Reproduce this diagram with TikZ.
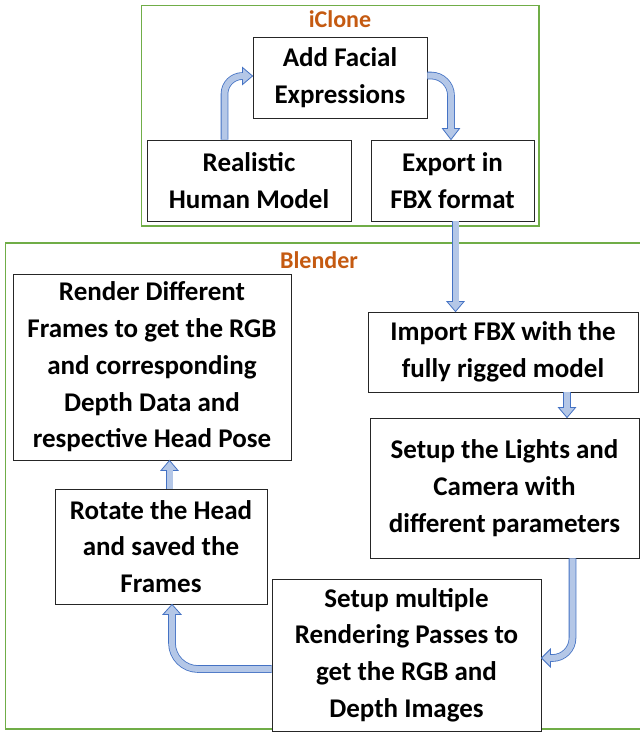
\documentclass[tikz,border=0pt]{standalone}
\usepackage{fontspec}
\setmainfont{Carlito}
\usetikzlibrary{calc}
\definecolor{grpline}{HTML}{70AD47}
\definecolor{ttlcol}{HTML}{C55A11}
\definecolor{aout}{HTML}{4472C4}
\definecolor{afill}{HTML}{B4C7E7}
\begin{document}
\begin{tikzpicture}[x=1pt,y=-1pt,
  box/.style={draw=black!85, line width=0.9pt, fill=white, align=center,
    font=\fontsize{27}{36.7}\selectfont\bfseries, inner sep=0pt},
  grp/.style={draw=grpline, line width=1.1pt},
  ttlstyle/.style={text=ttlcol, font=\fontsize{24}{28}\selectfont\bfseries, inner sep=0pt},
  shout/.style={draw=aout, line width=7.6pt},
  shin/.style={draw=afill, line width=6pt},
  ahd/.style={fill=afill, draw=aout, line width=0.8pt, line join=miter},
]
\useasboundingbox (0,0) rectangle (640,740);
\fill[white] (0,0) rectangle (640,740);
% groups
\draw[grp] (141.5,5.5) rectangle (539,226);
\node[ttlstyle] (t1) at (340,19.5) {iClone};
\draw[grp] (5.5,243) rectangle (645,729);
\node[ttlstyle] (t2) at (319,260) {Blender};
% boxes
\node[box, minimum width=174, minimum height=81] (face) at (340,77.5) {Add Facial\\Expressions};
\node[box, minimum width=204, minimum height=81] (real) at (249,180.5) {Realistic\\Human Model};
\node[box, minimum width=163, minimum height=81] (export) at (452.5,180.5) {Export in\\FBX format};
\node[box, minimum width=278, minimum height=186] (render) at (152,367) {Render Different\\Frames to get the RGB\\and corresponding\\Depth Data and\\respective Head Pose};
\node[box, minimum width=212, minimum height=115] (rotate) at (161,546.5) {Rotate the Head\\and saved the\\Frames};
\node[box, minimum width=270, minimum height=80] (import) at (503,352) {Import FBX with the\\fully rigged model};
\node[box, minimum width=269, minimum height=140] (lights) at (504.5,488) {Setup the Lights and\\Camera with\\different parameters};
\node[box, minimum width=269, minimum height=152] (passes) at (406.5,655) {Setup multiple\\Rendering Passes to\\get the RGB and\\Depth Images};
% arrow 1: real -> face
\coordinate (a1s) at ($(real.north)+(-24.5,0)$);
\coordinate (a1t) at ($(face.west)+(0,-1.5)$);
\coordinate (a1b) at ($(a1t)+(-10,0)$);
\draw[shout,rounded corners=18] (a1s) |- (a1b);
\draw[ahd] ($(a1b)+(0,-8.5)$) -- (a1t) -- ($(a1b)+(0,8.5)$) -- cycle;
\draw[shin,rounded corners=18] (a1s) |- ($(a1b)+(1.5,0)$);
% arrow 2: face -> export
\coordinate (a2s) at ($(face.east)+(0,-2)$);
\coordinate (a2t) at ($(export.north)+(-1.5,0)$);
\coordinate (a2b) at ($(a2t)+(0,-11)$);
\draw[shout,rounded corners=20] (a2s) -| (a2b);
\draw[ahd] ($(a2b)+(-8.5,0)$) -- (a2t) -- ($(a2b)+(8.5,0)$) -- cycle;
\draw[shin,rounded corners=20] (a2s) -| ($(a2b)+(0,1.5)$);
% arrow 3: export -> import
\coordinate (a3s) at ($(export.south)+(3,0)$);
\coordinate (a3t) at (a3s |- import.north);
\coordinate (a3b) at ($(a3t)+(0,-10)$);
\draw[shout] (a3s) -- (a3b);
\draw[ahd] ($(a3b)+(-8.5,0)$) -- (a3t) -- ($(a3b)+(8.5,0)$) -- cycle;
\draw[shin] (a3s) -- ($(a3b)+(0,1.5)$);
% arrow 4: import -> lights
\coordinate (a4s) at ($(import.south)+(64,0)$);
\coordinate (a4t) at (a4s |- lights.north);
\coordinate (a4b) at ($(a4t)+(0,-10)$);
\draw[shout] (a4s) -- (a4b);
\draw[ahd] ($(a4b)+(-8.5,0)$) -- (a4t) -- ($(a4b)+(8.5,0)$) -- cycle;
\draw[shin] (a4s) -- ($(a4b)+(0,1.5)$);
% arrow 5: lights -> passes
\coordinate (a5s) at ($(lights.south)+(68,0)$);
\coordinate (a5t) at ($(passes.east)+(0,3)$);
\coordinate (a5b) at ($(a5t)+(9,0)$);
\draw[shout,rounded corners=20] (a5s) |- (a5b);
\draw[ahd] ($(a5b)+(0,-9)$) -- (a5t) -- ($(a5b)+(0,9)$) -- cycle;
\draw[shin,rounded corners=20] (a5s) |- ($(a5b)+(-1.5,0)$);
% arrow 6: passes -> rotate
\coordinate (a6s) at ($(passes.west)+(0,14)$);
\coordinate (a6t) at ($(rotate.south)+(11,0)$);
\coordinate (a6b) at ($(a6t)+(0,10)$);
\draw[shout,rounded corners=26] (a6s) -| (a6b);
\draw[ahd] ($(a6b)+(-9,0)$) -- (a6t) -- ($(a6b)+(9,0)$) -- cycle;
\draw[shin,rounded corners=26] (a6s) -| ($(a6b)+(0,-1.5)$);
% arrow 7: rotate -> render
\coordinate (a7s) at ($(rotate.north)+(8.5,0)$);
\coordinate (a7t) at (a7s |- render.south);
\coordinate (a7b) at ($(a7t)+(0,10)$);
\draw[shout] (a7s) -- (a7b);
\draw[ahd] ($(a7b)+(-8.5,0)$) -- (a7t) -- ($(a7b)+(8.5,0)$) -- cycle;
\draw[shin] (a7s) -- ($(a7b)+(0,-1.5)$);
\end{tikzpicture}
\end{document}
